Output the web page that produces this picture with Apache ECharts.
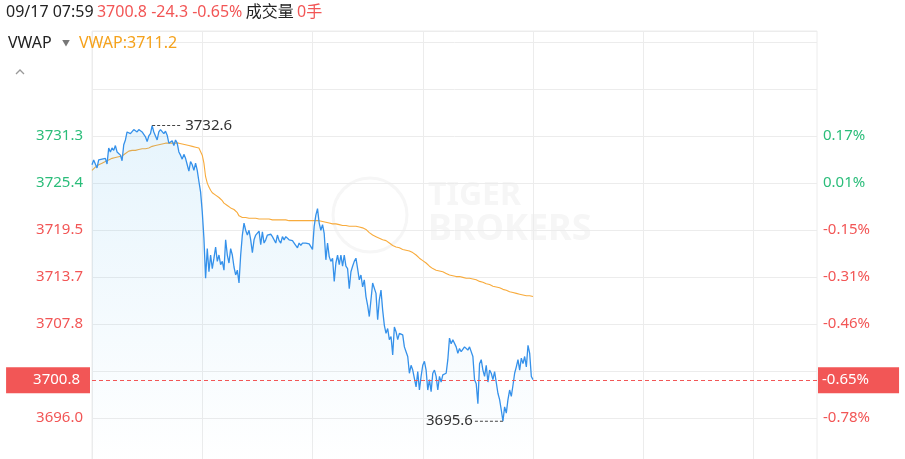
<!DOCTYPE html>
<html><head><meta charset="utf-8">
<script src="https://cdn.jsdelivr.net/npm/echarts@6/dist/echarts.min.js"></script>
<style>html,body{margin:0;padding:0;background:#fff}#c{width:905px;height:459px}</style>
</head><body><div id="c"></div>
<script>
// ---- data ----
const price = [
3727.7,3728.3,3728.1,3727.3,3728.3,3728.5,3728.4,3728.2,3728.5,3727.8,
3729.8,3729.3,3729.8,3729.5,3730.1,3729.3,3729.5,3728.9,3728.2,3730.2,
3730.8,3731.8,3731.9,3731.6,3731.4,3732.1,3731.9,3731.8,3732.1,3731.9,
3731.8,3731.5,3731.2,3730.6,3731.3,3731.6,3732.6,3731.8,3731.6,3730.8,
3731.8,3732.1,3732.3,3731.6,3731.9,3731.4,3730.4,3730.3,3730.7,3730.1,
3730.8,3730.4,3729.3,3728.9,3728.4,3729.0,3728.5,3727.7,3726.9,3728.1,
3727.7,3727.0,3727.9,3727.0,3725.6,3724.3,3721.8,3718.5,3713.5,3717.2,
3714.3,3716.4,3714.7,3716.0,3717.4,3715.6,3716.4,3715.2,3715.6,3714.5,
3718.3,3716.4,3715.4,3717.2,3716.4,3714.9,3713.9,3714.5,3712.9,3716.4,
3718.9,3720.4,3719.5,3718.9,3719.5,3718.3,3716.7,3718.3,3718.9,3719.1,
3719.4,3717.7,3719.3,3717.9,3718.3,3718.9,3719.1,3719.0,3718.7,3718.9,
3717.9,3718.9,3718.2,3717.9,3718.7,3718.3,3718.7,3718.6,3718.3,3718.1,
3718.2,3717.9,3717.7,3717.3,3717.9,3717.6,3717.9,3717.7,3717.9,3718.0,
3717.8,3717.7,3717.1,3720.0,3721.4,3722.2,3720.4,3719.5,3720.2,3719.1,
3715.8,3717.9,3716.2,3715.6,3716.0,3713.1,3715.4,3716.4,3715.2,3716.4,
3715.0,3716.4,3715.0,3714.7,3712.2,3714.3,3715.0,3715.6,3716.0,3714.7,
3713.3,3713.9,3712.4,3713.3,3711.2,3710.1,3708.7,3710.8,3712.9,3713.1,
3711.6,3708.3,3710.8,3712.0,3709.5,3707.6,3706.6,3707.2,3705.8,3706.2,
3703.9,3707.4,3706.8,3705.8,3706.6,3706.8,3706.4,3704.9,3704.3,3703.7,
3701.6,3702.6,3702.0,3702.2,3699.9,3701.8,3699.5,3701.2,3702.6,3703.1,
3702.0,3699.5,3700.8,3699.3,3701.6,3702.0,3701.2,3699.5,3701.2,3700.5,
3701.4,3701.2,3701.6,3703.3,3706.0,3705.3,3705.8,3705.6,3704.9,3704.1,
3704.7,3704.3,3704.5,3704.9,3705.1,3704.5,3704.9,3704.7,3703.7,3700.8,
3700.3,3697.8,3702.8,3703.3,3702.0,3701.2,3702.6,3700.5,3702.0,3701.6,
3700.8,3701.8,3702.0,3699.1,3698.3,3697.0,3695.6,3697.4,3696.6,3698.3,
3699.5,3698.7,3700.1,3701.6,3702.4,3703.3,3702.0,3703.5,3702.8,3703.7,
3702.4,3705.1,3704.1,3701.2,3700.8
];
const vwap = [
3727.0,3727.2,3727.4,3727.5,3727.7,3727.8,3727.9,3728.0,3728.1,3728.2,
3728.3,3728.4,3728.5,3728.5,3728.6,3728.7,3728.7,3728.8,3728.8,3728.9,
3729.1,3729.3,3729.4,3729.4,3729.5,3729.5,3729.5,3729.6,3729.6,3729.6,
3729.7,3729.7,3729.7,3729.8,3729.8,3729.9,3730.0,3730.1,3730.1,3730.2,
3730.2,3730.3,3730.3,3730.3,3730.4,3730.4,3730.4,3730.4,3730.4,3730.4,
3730.4,3730.4,3730.4,3730.3,3730.3,3730.2,3730.2,3730.1,3730.1,3730.0,
3730.0,3729.9,3729.9,3729.8,3729.8,3729.6,3728.9,3727.9,3726.2,3725.4,
3724.9,3724.5,3724.2,3724.1,3723.9,3723.8,3723.6,3723.4,3723.2,3722.9,
3722.7,3722.6,3722.5,3722.3,3722.2,3722.1,3721.9,3721.7,3721.3,3721.2,
3721.1,3721.1,3721.1,3721.0,3721.0,3721.0,3721.0,3721.0,3721.0,3721.0,
3720.9,3720.9,3720.9,3720.9,3720.9,3720.9,3720.9,3720.8,3720.8,3720.8,
3720.8,3720.8,3720.8,3720.8,3720.8,3720.8,3720.8,3720.7,3720.7,3720.7,
3720.7,3720.7,3720.7,3720.7,3720.7,3720.7,3720.7,3720.7,3720.7,3720.7,
3720.7,3720.7,3720.7,3720.7,3720.7,3720.7,3720.7,3720.6,3720.6,3720.5,
3720.5,3720.5,3720.4,3720.4,3720.3,3720.3,3720.3,3720.2,3720.2,3720.2,
3720.1,3720.1,3720.1,3720.1,3720.0,3720.0,3720.0,3720.0,3720.0,3719.9,
3719.9,3719.8,3719.8,3719.7,3719.6,3719.4,3719.2,3719.1,3718.9,3718.8,
3718.7,3718.6,3718.5,3718.4,3718.3,3718.2,3718.2,3718.0,3717.9,3717.8,
3717.6,3717.5,3717.4,3717.3,3717.3,3717.2,3717.1,3717.1,3717.0,3716.9,
3716.9,3716.8,3716.7,3716.6,3716.4,3716.2,3716.0,3715.8,3715.7,3715.6,
3715.4,3715.2,3715.0,3714.9,3714.7,3714.6,3714.5,3714.5,3714.4,3714.4,
3714.3,3714.2,3714.1,3714.0,3713.9,3713.9,3713.8,3713.8,3713.7,3713.7,
3713.7,3713.6,3713.6,3713.6,3713.5,3713.5,3713.5,3713.4,3713.4,3713.3,
3713.3,3713.2,3713.1,3713.0,3713.0,3712.9,3712.8,3712.7,3712.7,3712.6,
3712.5,3712.5,3712.4,3712.3,3712.3,3712.2,3712.1,3712.0,3712.0,3711.9,
3711.8,3711.8,3711.7,3711.7,3711.6,3711.6,3711.5,3711.5,3711.4,3711.4,
3711.3,3711.3,3711.3,3711.2,3711.2
];
const slotCount = 435;                       // full session slots on the time axis
const categories = Array.from({length: slotCount}, (_, i) => String(i));
const leftTickLabels  = ['', '3696.0', '', '3707.8', '3713.7', '3719.5', '3725.4', '3731.3', '', '', ''];
const rightTickLabels = ['', '-0.78%', '', '-0.46%', '-0.31%', '-0.15%', '0.01%', '0.17%', '', '', ''];
const tickIsUp = [false, false, false, false, false, false, true, true, true, true, true];
const headerTime = '09/17 07:59';
const lastPrice = '3700.8';
const change = '-24.3';
const changePct = '-0.65%';
const volumeLabel = '成交量';
const volume = '0手';
const vwapName = 'VWAP';
const vwapLast = '3711.2';
const lastValue = 3700.8;
const yMin = 3690.1167, yMax = 3744.44, yStep = 5.88333;

// ---- styles ----
const FONT = '"Noto Sans", "Noto Sans CJK SC", sans-serif';
const RED = '#f25656', GREEN = '#2bbd7a', BLUE = '#3591ea', ORANGE = '#f8ab3c', GRID = '#ececec';
const dashPath = 'path://M0 0h3v1H0zM5 0h3v1H5zM10 0h3v1h-3zM15 0h3v1h-3zM20 0h3v1h-3zM25 0h3v1h-3z';
const GRID_LEFT = 92, GRID_RIGHT = 88;

const chart = echarts.init(document.getElementById('c'), null, {renderer: 'canvas'});
chart.setOption({
  animation: false,
  backgroundColor: '#fff',
  textStyle: {fontFamily: FONT},
  axisPointer: {triggerOn: 'none'},
  grid: {left: GRID_LEFT, right: GRID_RIGHT, top: 31, height: 434, outerBoundsMode: 'none', containLabel: false,
    show: true, borderColor: GRID, borderWidth: 1, backgroundColor: 'transparent'},
  xAxis: {
    type: 'category', data: categories, boundaryGap: false,
    axisLine: {show: false}, axisTick: {show: false}, axisLabel: {show: false},
    splitLine: {show: true, interval: 65, lineStyle: {color: GRID, width: 1}}
  },
  yAxis: [{
    type: 'value', min: yMin, max: yMax, interval: yStep, position: 'left', scale: true,
    axisLine: {show: false}, axisTick: {show: false},
    splitLine: {show: true, lineStyle: {color: GRID, width: 1}},
    axisLabel: {
      margin: 9, fontSize: 15, fontFamily: FONT, padding: [4, 0, 0, 0],
      formatter: (v, i) => leftTickLabels[i] || '',
      color: (v, i) => tickIsUp[i] ? GREEN : RED
    },
    axisPointer: {
      show: true, status: 'show', value: lastValue, type: 'none', snap: false,
      triggerTooltip: false, triggerEmphasis: false,
      label: {show: true, formatter: () => lastPrice, margin: 2, backgroundColor: RED, color: '#fff',
        fontSize: 15, fontFamily: FONT, lineHeight: 16, padding: [5, 10, 5, 27], borderRadius: 0, shadowBlur: 0}
    }
  }, {
    type: 'value', min: yMin, max: yMax, interval: yStep, position: 'right', scale: true,
    axisLine: {show: false}, axisTick: {show: false}, splitLine: {show: false},
    axisLabel: {
      margin: 6, fontSize: 15, fontFamily: FONT, padding: [4, 0, 0, 0],
      formatter: (v, i) => rightTickLabels[i] || '',
      color: (v, i) => tickIsUp[i] ? GREEN : RED
    },
    axisPointer: {
      show: true, status: 'show', value: lastValue, type: 'none', snap: false,
      triggerTooltip: false, triggerEmphasis: false,
      label: {show: true, formatter: () => changePct, margin: 1, backgroundColor: RED, color: '#fff',
        fontSize: 15, fontFamily: FONT, lineHeight: 16, padding: [5, 30, 5, 4], borderRadius: 0, shadowBlur: 0}
    }
  }],
  series: [{
    name: 'price', type: 'line', data: price, yAxisIndex: 0, symbol: 'none', z: 3,
    lineStyle: {color: BLUE, width: 1.3},
    itemStyle: {color: BLUE},
    areaStyle: {origin: 'start', color: new echarts.graphic.LinearGradient(0, 0, 0, 1, [
      {offset: 0, color: 'rgba(60,170,235,0.18)'}, {offset: 1, color: 'rgba(60,170,235,0)'}
    ])},
    markPoint: {
      silent: true,
      symbol: dashPath, symbolSize: [28, 1], symbolKeepAspect: false,
      itemStyle: {color: '#444'},
      data: [
        {type: 'max', symbolOffset: [14, 0], label: {show: true, position: 'right', distance: 5, color: '#333', fontSize: 15, fontFamily: FONT, formatter: p => p.value.toFixed(1)}},
        {type: 'min', symbolOffset: [-14, 0], label: {show: true, position: 'left', distance: 2, color: '#333', fontSize: 15, fontFamily: FONT, formatter: p => p.value.toFixed(1)}}
      ]
    }
  }, {
    name: 'vwap', type: 'line', data: vwap, yAxisIndex: 0, symbol: 'none', z: 2,
    lineStyle: {color: ORANGE, width: 1.1}
  }],
  graphic: [
    // watermark
    {type: 'circle', shape: {cx: 370, cy: 215, r: 37}, style: {fill: 'none', stroke: '#f6f6f6', lineWidth: 3}, silent: true, z: 0},
    {type: 'text', left: 428, top: 180, silent: true, z: 0, style: {text: 'TIGER', fill: '#f6f6f6', fontSize: 32, fontWeight: 'bold', fontFamily: FONT}},
    {type: 'text', left: 428, top: 212, silent: true, z: 0, style: {text: 'BROKERS', fill: '#f6f6f6', fontSize: 36, fontWeight: 'bold', fontFamily: FONT}},
    // header
    {type: 'text', left: 6, top: 4, z: 10, style: {
      text: '{a|' + headerTime + '} {r|' + lastPrice + ' ' + change + ' ' + changePct + '} {a|' + volumeLabel + '} {r|' + volume + '}',
      rich: {a: {fill: '#222', fontSize: 16, fontFamily: FONT}, r: {fill: RED, fontSize: 16, fontFamily: FONT}}
    }},
    {type: 'text', left: 8, top: 35, z: 10, style: {text: vwapName, fill: '#222', fontSize: 16, fontFamily: FONT}},
    {type: 'text', left: 62, top: 40, z: 10, style: {text: '▼', fill: '#777', fontSize: 8, fontFamily: FONT}},
    {type: 'text', left: 79, top: 35, z: 10, style: {text: vwapName + ':' + vwapLast, fill: '#f5a21c', fontSize: 16, fontFamily: FONT}},
    {type: 'polyline', z: 10, shape: {points: [[16, 74], [20, 70], [24, 74]]}, style: {stroke: '#999', lineWidth: 1.3, fill: 'none'}}
  ]
});

// last-price reference line, placed through the chart's own y scale
const lastY = Math.round(chart.convertToPixel({yAxisIndex: 0}, lastValue)) + 0.5;
chart.setOption({
  graphic: [{
    id: 'lastLine', type: 'line', z: 20, silent: true,
    shape: {x1: GRID_LEFT, y1: lastY, x2: 905 - GRID_RIGHT, y2: lastY},
    style: {stroke: RED, lineWidth: 1, lineDash: [4, 3]}
  }]
});
</script></body></html>
